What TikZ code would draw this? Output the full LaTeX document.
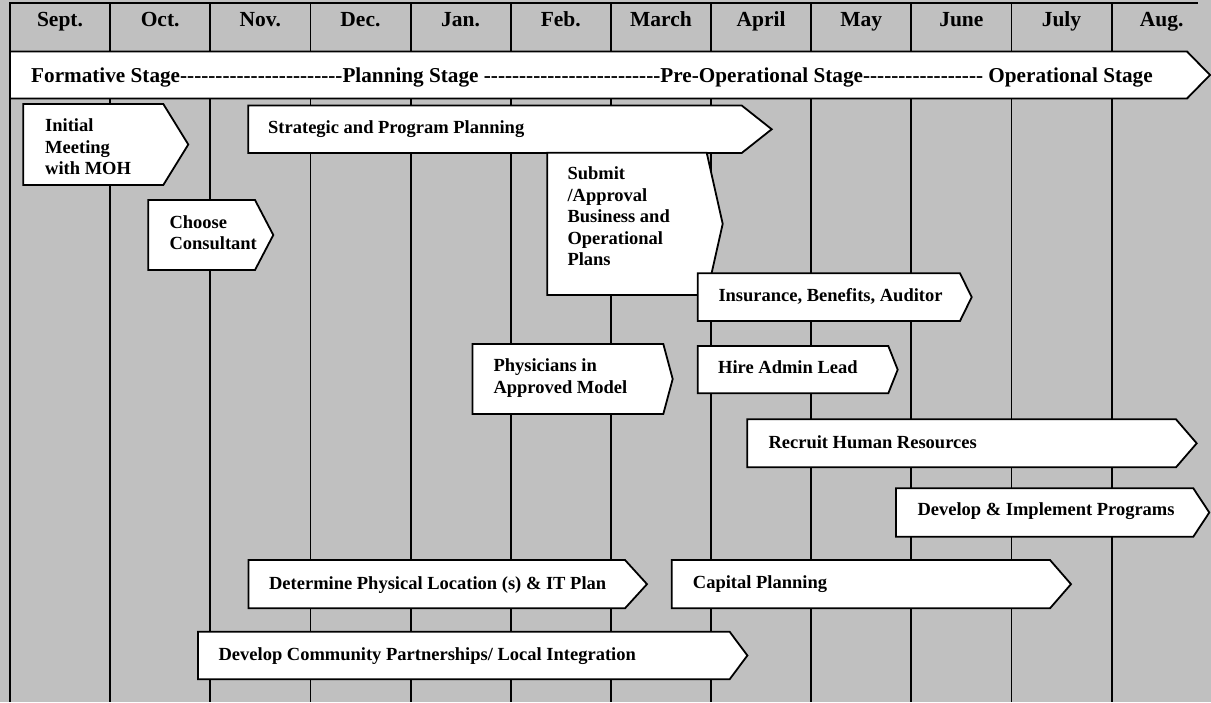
\documentclass[tikz,border=0pt]{standalone}
\usepackage{fontspec}
\setmainfont{Liberation Serif}
\definecolor{bggray}{HTML}{C0C0C0}
\newcommand\bodyf{\fontsize{18.5}{21.5}\selectfont\bfseries}
\newcommand\headf{\fontsize{21.5}{24}\selectfont\bfseries}
\newcommand\stagef{\fontsize{21.2}{24}\selectfont\bfseries}
\newcommand\mlines[1]{\parbox[t]{9cm}{\raggedright #1}}
\newcommand\dashrun[1]{\foreach\q in {1,...,#1}{-\kern0pt}}
\newcommand\arrowbox[5]{\draw[box] (#1,#2) -- (#4,#2) -- (#5,{(#2+#3)/2}) -- (#4,#3) -- (#1,#3) -- cycle;}
\begin{document}
\begin{tikzpicture}[x=1pt,y=-1pt,
  gridline/.style={line width=1.8pt},
  box/.style={draw=black, fill=white, line width=1.8pt, line join=miter},
  lbl/.style={anchor=base west, inner sep=0pt, font=\bodyf},
  month/.style={anchor=base, inner sep=0pt, font=\headf}]
\useasboundingbox (0,0) rectangle (1211,702);
\fill[bggray] (0,0) rectangle (1211,702);
\foreach \k in {1,...,11}{\draw[gridline] ({10+100.15*\k},3) -- ({10+100.15*\k},702);}
\draw[gridline] (10,702) -- (10,3) -- (1198,3);
% months
\foreach \m [count=\i from 0] in {Sept.,Oct.,Nov.,Dec.,Jan.,Feb.,March,April,May,June,July,Aug.}{
  \node[month] (m\i) at ({60+100.15*\i},26) {\m};}
% stage arrow
\draw[box] (10,51.5) -- (1187,51.5) -- (1210,75) -- (1187,98.5) -- (10,98.5) -- cycle;
\node[anchor=base west, inner sep=0pt, font=\stagef] (stage) at (31,82)
  {Formative Stage\dashrun{23}Planning Stage \dashrun{25}Pre-Operational Stage\dashrun{17} Operational Stage};
% boxes
\arrowbox{23.3}{104}{185}{163.3}{188.3}
\arrowbox{248.3}{105.5}{153}{741.7}{771.7}
\arrowbox{148.3}{200}{270}{255}{273.3}
\arrowbox{547.3}{152.7}{295}{706.7}{722.7}
\arrowbox{697.7}{273.3}{321}{960}{971.7}
\arrowbox{697.7}{346}{393.3}{888.3}{897.7}
\arrowbox{472.5}{344}{414}{663.3}{672.7}
\arrowbox{747.3}{419.3}{467.3}{1176}{1196.7}
\arrowbox{896}{488.3}{536.7}{1193.3}{1209.3}
\arrowbox{248.5}{560}{608.3}{625}{647}
\arrowbox{671.7}{560}{608.3}{1050}{1071}
\arrowbox{198}{631.7}{679.3}{729.6}{747.4}
% labels
\node[lbl] (t1) at (45,131.7) {\mlines{Initial\\Meeting\\with MOH}};
\node[lbl] (t2) at (268,133.5) {Strategic and Program Planning};
\node[lbl] (t3) at (169.3,228) {\mlines{Choose\\Consultant}};
\node[lbl] (t4) at (567.3,179.5) {\mlines{Submit\\/Approval\\Business and\\Operational\\Plans}};
\node[lbl] (t5) at (718.3,301.7) {Insurance, Benefits, Auditor};
\node[lbl] (t6) at (718,373.3) {Hire Admin Lead};
\node[lbl] (t7) at (493.3,371.7) {\mlines{Physicians in\\Approved Model}};
\node[lbl] (t8) at (768.3,448.3) {Recruit Human Resources};
\node[lbl] (t9) at (917.3,515.7) {Develop \& Implement Programs};
\node[lbl] (t10) at (268.9,589.3) {Determine Physical Location (s) \& IT Plan};
\node[lbl] (t11) at (692.7,588.3) {Capital Planning};
\node[lbl] (t12) at (218.4,660) {Develop Community Partnerships/ Local Integration};
\end{tikzpicture}
\end{document}
